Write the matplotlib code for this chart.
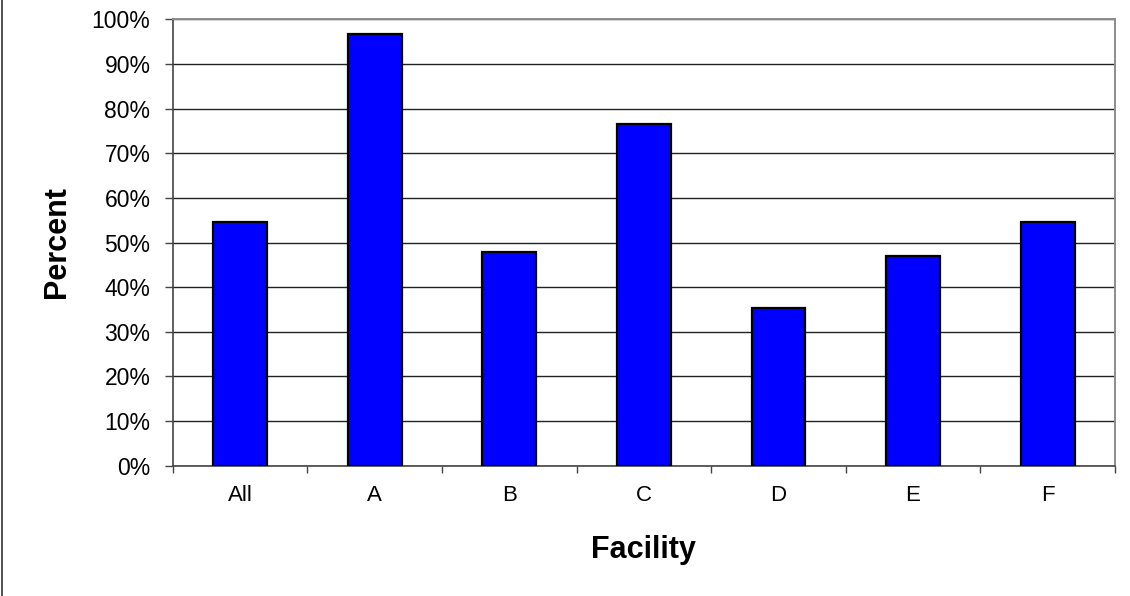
import matplotlib as mpl

mpl.use("Agg")

import matplotlib.pyplot as plt
import numpy as np
from matplotlib.lines import Line2D
from matplotlib.ticker import FuncFormatter, MultipleLocator

plt.rcParams["font.family"] = ["Liberation Sans", "DejaVu Sans"]

facilities = ["All", "A", "B", "C", "D", "E", "F"]
percent = [54.7, 96.8, 47.8, 76.6, 35.4, 46.9, 54.7]

fig = plt.figure(figsize=(11.3, 5.96), dpi=100)
ax = fig.add_axes([0.1528, 0.2186, 0.8339, 0.749])

x = np.arange(len(facilities))
ax.bar(
    x,
    percent,
    width=0.4,
    color="#0000FF",
    edgecolor="black",
    linewidth=1.6,
    zorder=3,
)

ax.set_xlim(-0.5, len(facilities) - 0.5)
ax.set_ylim(0, 100)

# y axis: percent ticks every 10
ax.yaxis.set_major_locator(MultipleLocator(10))
ax.yaxis.set_major_formatter(FuncFormatter(lambda v, _: f"{v:.0f}%"))
ax.grid(axis="y", color="#222222", linewidth=1.0, zorder=1)
ax.set_axisbelow(True)

# x axis: labels centred on bars, tick marks at category boundaries
ax.set_xticks(x, facilities)
ax.tick_params(axis="x", which="major", length=0, pad=14, labelsize=16)
ax.set_xticks(np.arange(len(facilities) + 1) - 0.5, minor=True)
ax.tick_params(axis="x", which="minor", length=5, width=1, color="#444444", direction="out")
ax.tick_params(axis="y", length=6, width=1, color="#444444", direction="out", pad=10, labelsize=16.5)

for side in ("top", "right"):
    ax.spines[side].set_color("#8C8C8C")
    ax.spines[side].set_linewidth(1.4)
for side in ("left", "bottom"):
    ax.spines[side].set_color("#444444")
    ax.spines[side].set_linewidth(1.2)

ax.set_ylabel("Percent", fontsize=22, fontweight="bold", labelpad=14)
ax.set_xlabel("Facility", fontsize=22, fontweight="bold", labelpad=20.5)

# frame edge along the left of the chart area
fig.add_artist(Line2D([0.002, 0.002], [0, 1], transform=fig.transFigure, color="#333333", linewidth=1.2))

fig.savefig("out.png", dpi=100)
